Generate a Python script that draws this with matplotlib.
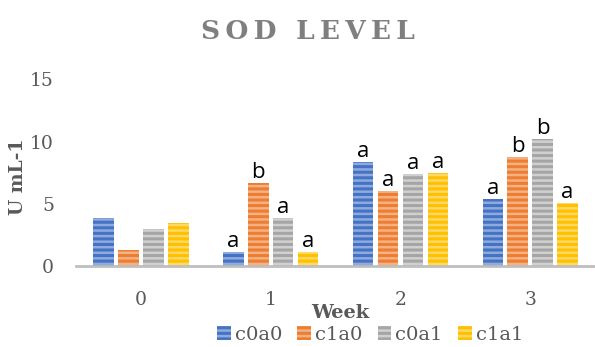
import matplotlib
matplotlib.use("Agg")
import matplotlib.pyplot as plt
import numpy as np

# SOD activity per week for each treatment
weeks = ["0", "1", "2", "3"]
series = ["c0a0", "c1a0", "c0a1", "c1a1"]
c0a0 = [3.85, 1.16, 8.38, 5.39]
c1a0 = [1.36, 6.70, 6.05, 8.78]
c0a1 = [3.00, 3.90, 7.42, 10.22]
c1a1 = [3.45, 1.14, 7.50, 5.09]
letters = {
    "c0a0": ["", "a", "a", "a"],
    "c1a0": ["", "b", "a", "b"],
    "c0a1": ["", "a", "a", "b"],
    "c1a1": ["", "a", "a", "a"],
}

FACE = ["#4472C4", "#ED7D31", "#A5A5A5", "#FFC000"]
STRIPE = ["#8FAADC", "#F4B183", "#D0D0D0", "#FFD966"]
TEXT_GRAY = "#595959"
SERIF = "DejaVu Serif"

plt.rcParams["hatch.linewidth"] = 1.8

fig = plt.figure(figsize=(5.95, 3.47), dpi=100)
ax = fig.add_axes([0.128, 0.232, 0.872, 0.540])

x = np.arange(len(weeks))
step = 0.192
width = 0.158
values = [c0a0, c1a0, c0a1, c1a1]

for i, name in enumerate(series):
    pos = x + (i - 1.5) * step
    bars = ax.bar(pos, values[i], width, color=FACE[i], edgecolor=STRIPE[i],
                  linewidth=0, hatch="---", label=name)
    ax.bar_label(bars, labels=letters[name], padding=0, fontsize=16,
                 family="Open Sans", color="black")

ax.set_xlim(-0.5, 3.5)
ax.set_ylim(0, 15)
ax.set_yticks([0, 5, 10, 15])
ax.set_xticks(x)
ax.set_xticklabels(weeks)

for side in ["top", "right", "left"]:
    ax.spines[side].set_visible(False)
ax.spines["bottom"].set_color("#BFBFBF")
ax.spines["bottom"].set_linewidth(2)
ax.tick_params(axis="both", length=0, labelsize=13.5, labelcolor=TEXT_GRAY)
ax.tick_params(axis="y", pad=16)
ax.tick_params(axis="x", pad=18)
for lbl in ax.get_xticklabels() + ax.get_yticklabels():
    lbl.set_family(SERIF)

# letter-spaced title, drawn with thin spaces between the glyphs
title = "\u2009".join("SOD LEVEL")
fig.text(0.518, 0.91, title, ha="center", va="center", fontsize=19,
         fontweight="bold", family=SERIF, color="#7F7F7F")
fig.text(0.030, 0.49, "U mL-1", ha="center", va="center", rotation=90,
         fontsize=13.5, fontweight="bold", family=SERIF, color=TEXT_GRAY)
fig.text(0.572, 0.098, "Week", ha="center", va="center", fontsize=14,
         fontweight="bold", family=SERIF, color=TEXT_GRAY)

leg = fig.legend(loc="center", bbox_to_anchor=(0.622, 0.036), ncol=4, frameon=False,
                 handlelength=0.7, handleheight=0.7, handletextpad=0.2,
                 columnspacing=0.8, prop={"family": SERIF, "size": 14})
for t in leg.get_texts():
    t.set_color(TEXT_GRAY)

fig.savefig("out.png", dpi=100)
